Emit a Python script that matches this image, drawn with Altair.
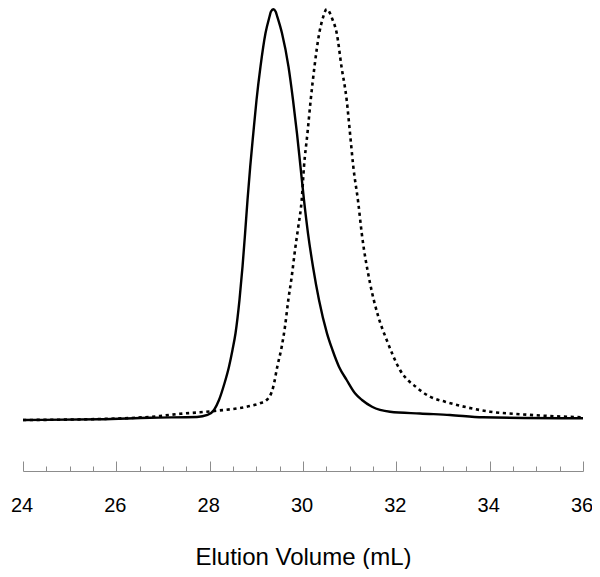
import altair as alt
import pandas as pd

# Solid trace (elution volume in mL, normalized absorbance)
solid_x = [24.000, 25.650, 26.721, 27.729, 27.954, 28.093, 28.200, 28.318, 28.414, 28.489,
           28.554, 28.639, 28.704, 28.759, 28.811, 28.869, 28.935, 29.004, 29.089, 29.196,
           29.282, 29.314, 29.364, 29.413, 29.449, 29.550, 29.689, 29.786, 29.871, 29.946,
           30.021, 30.107, 30.214, 30.343, 30.514, 30.632, 30.771, 30.936, 31.114, 31.264,
           31.479, 31.864, 32.507, 33.150, 33.857, 36.000]
solid_y = [0.0000, 0.0017, 0.0056, 0.0073, 0.0122, 0.0243, 0.0487, 0.0894, 0.1298, 0.1704,
           0.2111, 0.2922, 0.3733, 0.4546, 0.5357, 0.6168, 0.6981, 0.7792, 0.8603, 0.9416,
           0.9820, 0.9947, 1.0000, 0.9947, 0.9820, 0.9416, 0.8603, 0.7792, 0.6981, 0.6168,
           0.5357, 0.4546, 0.3733, 0.2922, 0.2111, 0.1704, 0.1298, 0.0974, 0.0650, 0.0487,
           0.0324, 0.0202, 0.0158, 0.0122, 0.0066, 0.0041]

# Dotted trace
dashed_x = [24.000, 25.650, 26.936, 27.364, 27.793, 28.151, 28.650, 28.864, 29.079, 29.222,
            29.364, 29.449, 29.544, 29.614, 29.685, 29.758, 29.829, 29.899, 29.972, 30.021,
            30.096, 30.165, 30.246, 30.349, 30.414, 30.508, 30.636, 30.722, 30.825, 30.936,
            31.007, 31.078, 31.185, 31.258, 31.436, 31.614, 31.794, 32.079, 32.436, 32.721,
            33.043, 33.508, 34.007, 34.579, 35.293, 36.000]
dashed_y = [0.0000, 0.0024, 0.0097, 0.0151, 0.0187, 0.0226, 0.0292, 0.0341, 0.0407, 0.0487,
            0.0811, 0.1298, 0.1785, 0.2272, 0.2922, 0.3489, 0.4139, 0.4707, 0.5357, 0.6168,
            0.6988, 0.7792, 0.8603, 0.9423, 0.9740, 1.0000, 0.9740, 0.9423, 0.8603, 0.7792,
            0.6988, 0.6168, 0.5284, 0.4553, 0.3336, 0.2515, 0.1948, 0.1217, 0.0791, 0.0568,
            0.0445, 0.0309, 0.0202, 0.0146, 0.0097, 0.0066]

major_ticks = [24, 26, 28, 30, 32, 34, 36]
all_ticks = [24 + 0.5 * i for i in range(25)]

W, H = 560, 463
FONT = "Liberation Sans"
GRAY = "#8c8c8c"

solid_df = pd.DataFrame({"vol": solid_x, "abs": solid_y})
dashed_df = pd.DataFrame({"vol": dashed_x, "abs": dashed_y})

x_scale = alt.Scale(domain=[24, 36], nice=False, zero=False)
y_scale = alt.Scale(domain=[-0.1242, 1.0032], nice=False, zero=False)

label_axis = alt.Axis(
    orient="bottom", values=major_ticks, format="d", ticks=False, tickSize=0,
    domain=True, domainColor=GRAY, domainWidth=1, grid=False,
    labelFont=FONT, labelFontSize=20, labelColor="black", labelPadding=24,
    labelFlush=False, labelOffset=-1.5,
    title="Elution Volume (mL)", titleFont=FONT, titleFontSize=24,
    titleFontWeight="normal", titleColor="black", titlePadding=30,
)

tick_axis = alt.Axis(
    orient="top", values=all_ticks, offset=-H, labels=False, domain=False,
    ticks=True, tickColor=GRAY, tickWidth=1, grid=False, title=None,
    tickSize={"condition": {"test": "datum.value % 2 === 0", "value": 10}, "value": 5},
)

solid = alt.Chart(solid_df).mark_line(
    color="black", strokeWidth=2.4, interpolate="monotone"
).encode(
    x=alt.X("vol:Q", scale=x_scale, axis=label_axis),
    y=alt.Y("abs:Q", scale=y_scale, axis=None),
)

dashed = alt.Chart(dashed_df).mark_line(
    color="black", strokeWidth=2.6, strokeDash=[3.2, 3.6], interpolate="monotone"
).encode(
    x=alt.X("vol:Q", scale=x_scale, axis=tick_axis),
    y=alt.Y("abs:Q", scale=y_scale, axis=None),
)

chart = alt.layer(solid, dashed).properties(
    width=W, height=H,
    padding={"left": 15, "top": 0, "right": 9, "bottom": 98},
    autosize=alt.AutoSizeParams(type="none"),
).configure_view(strokeWidth=0)

chart.save("out.html", embed_options={"renderer": "svg", "actions": False})
